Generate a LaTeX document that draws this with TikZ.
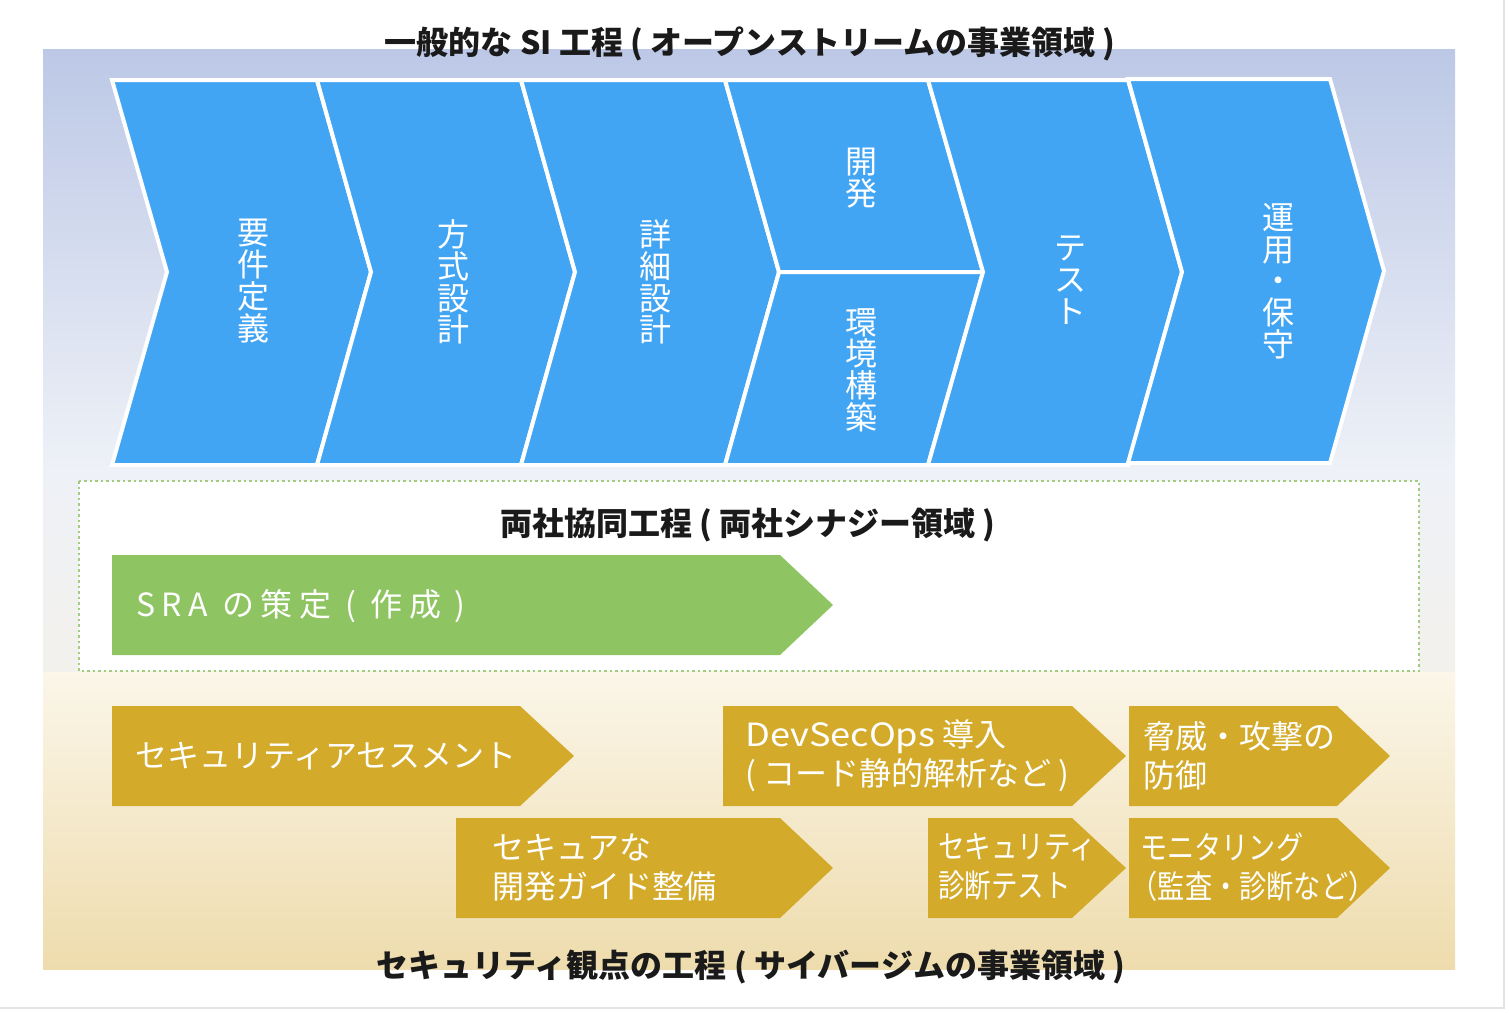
\documentclass[tikz,border=0pt]{standalone}
\usepackage{fontspec}
\usepackage{graphicx}
\newfontfamily\jp{Noto Sans CJK JP}
\newfontfamily\jpls[LetterSpace=21]{Noto Sans CJK JP}
\definecolor{chevblue}{HTML}{42A5F4}
\definecolor{sragreen}{HTML}{8FC462}
\definecolor{secgold}{HTML}{D4AA2B}
\definecolor{dotgreen}{HTML}{A3CB82}
\definecolor{titleblack}{HTML}{1A1A1A}
\definecolor{bgA}{HTML}{BCC8E6}
\definecolor{bgB}{HTML}{EEF1F7}
\definecolor{bgC}{HTML}{F3F1EC}
\definecolor{bgD}{HTML}{FBF6E9}
\definecolor{bgE}{HTML}{EEDCAD}
\definecolor{edgegray}{HTML}{E4E4E4}
\tikzset{
  chev/.style={fill=chevblue, draw=white, line width=4pt, line join=miter},
  vtext/.style={text=white, align=center, inner sep=0pt, font=\jp\fontsize{32}{31.7}\selectfont},
  goldarrow/.style={fill=secgold, draw=none},
  goldtext/.style={text=white, align=left, anchor=west, inner sep=0pt, font=\jp\fontsize{32}{39}\selectfont},
  titletext/.style={text=titleblack, inner sep=0pt, font=\jp\bfseries\fontsize{32}{34}\selectfont},
}
\begin{document}
\begin{tikzpicture}[x=1pt,y=-1pt]
\useasboundingbox (0,0) rectangle (1509,1012);
\fill[white] (0,0) rectangle (1509,1012);
% page edges
\draw[edgegray, line width=2pt] (1504,0) -- (1504,1008) -- (0,1008);
% background panel
\shade[top color=bgA, bottom color=bgB] (43,49) rectangle (1455,470);
\shade[top color=bgB, bottom color=bgC] (43,470) rectangle (1455,672);
\shade[top color=bgD, bottom color=bgE] (43,672) rectangle (1455,969);

% chevrons
\draw[chev] (112,80) -- (317,80) -- (371,272) -- (317,465) -- (112,465) -- (167,272) -- cycle;
\draw[chev] (317,80) -- (521,80) -- (575,272) -- (521,465) -- (317,465) -- (371,272) -- cycle;
\draw[chev] (521,80) -- (725,80) -- (779,272) -- (725,465) -- (521,465) -- (575,272) -- cycle;
\draw[chev] (725,80) -- (928,80) -- (983,272) -- (779,272) -- cycle;
\draw[chev] (779,272) -- (983,272) -- (928,465) -- (725,465) -- cycle;
\draw[chev] (928,80) -- (1128,80) -- (1182,272) -- (1128,465) -- (928,465) -- (983,272) -- cycle;
\draw[chev] (1128,79) -- (1330,79) -- (1384,271) -- (1330,463) -- (1128,463) -- (1182,272) -- cycle;

\node[vtext] (req) at (253,281) {要\\件\\定\\義};
\node[vtext] (arch) at (453,282) {方\\式\\設\\計};
\node[vtext] (detail) at (655,282) {詳\\細\\設\\計};
\node[vtext] (dev) at (861,178) {開\\発};
\node[vtext] (env) at (861,370) {環\\境\\構\\築};
\node[vtext] (test) at (1070,280) {テ\\ス\\ト};
\node[vtext] (ops) at (1278,281) {運\\用\\・\\保\\守};

% titles
\node[titletext] (toptitle) at (750,44) {一般的な SI 工程 ( オープンストリームの事業領域 )};

% joint area
\draw[dotgreen, line width=2.5pt, dash pattern=on 2.5pt off 3pt, fill=white] (79,481) rectangle (1419,671);
\node[titletext] (midtitle) at (748,525) {両社協同工程 ( 両社シナジー領域 )};
\fill[sragreen] (112,555) -- (780,555) -- (833,605) -- (780,655) -- (112,655) -- cycle;
\node[text=white, anchor=west, inner sep=0pt, font=\jpls\fontsize{32}{34}\selectfont] (sra) at (136,606) {SRA の策定 ( 作成 )};

% security area
\fill[goldarrow] (112,706) -- (520,706) -- (574,756) -- (520,806) -- (112,806) -- cycle;
\fill[goldarrow] (723,706) -- (1072,706) -- (1126,756) -- (1072,806) -- (723,806) -- cycle;
\fill[goldarrow] (1129,706) -- (1337,706) -- (1390,756) -- (1337,806) -- (1129,806) -- cycle;
\fill[goldarrow] (456,818) -- (780,818) -- (833,868) -- (780,918) -- (456,918) -- cycle;
\fill[goldarrow] (928,818) -- (1072,818) -- (1126,868) -- (1072,918) -- (928,918) -- cycle;
\fill[goldarrow] (1129,818) -- (1337,818) -- (1390,868) -- (1337,918) -- (1129,918) -- cycle;

\node[goldtext] (assess) at (135,756) {セキュリティアセスメント};
\node[goldtext] (devsecops) at (745,756) {\scalebox{1.13}[1]{DevSecOps} 導入\\( コード静的解析など )};
\node[goldtext] (defense) at (1143,756) {脅威・攻撃の\\防御};
\node[goldtext] (guide) at (492,868) {セキュアな\\開発ガイド整備};
\node[goldtext, xscale=0.83] (diag) at (938,867) {セキュリティ\\診断テスト};
\node[goldtext, xscale=0.85] (monitor) at (1140,867) {モニタリング\\\hspace*{-0.35em}（監査・診断など）};

\node[titletext] (bottitle) at (751,967) {セキュリティ観点の工程 ( サイバージムの事業領域 )};
\end{tikzpicture}
\end{document}
